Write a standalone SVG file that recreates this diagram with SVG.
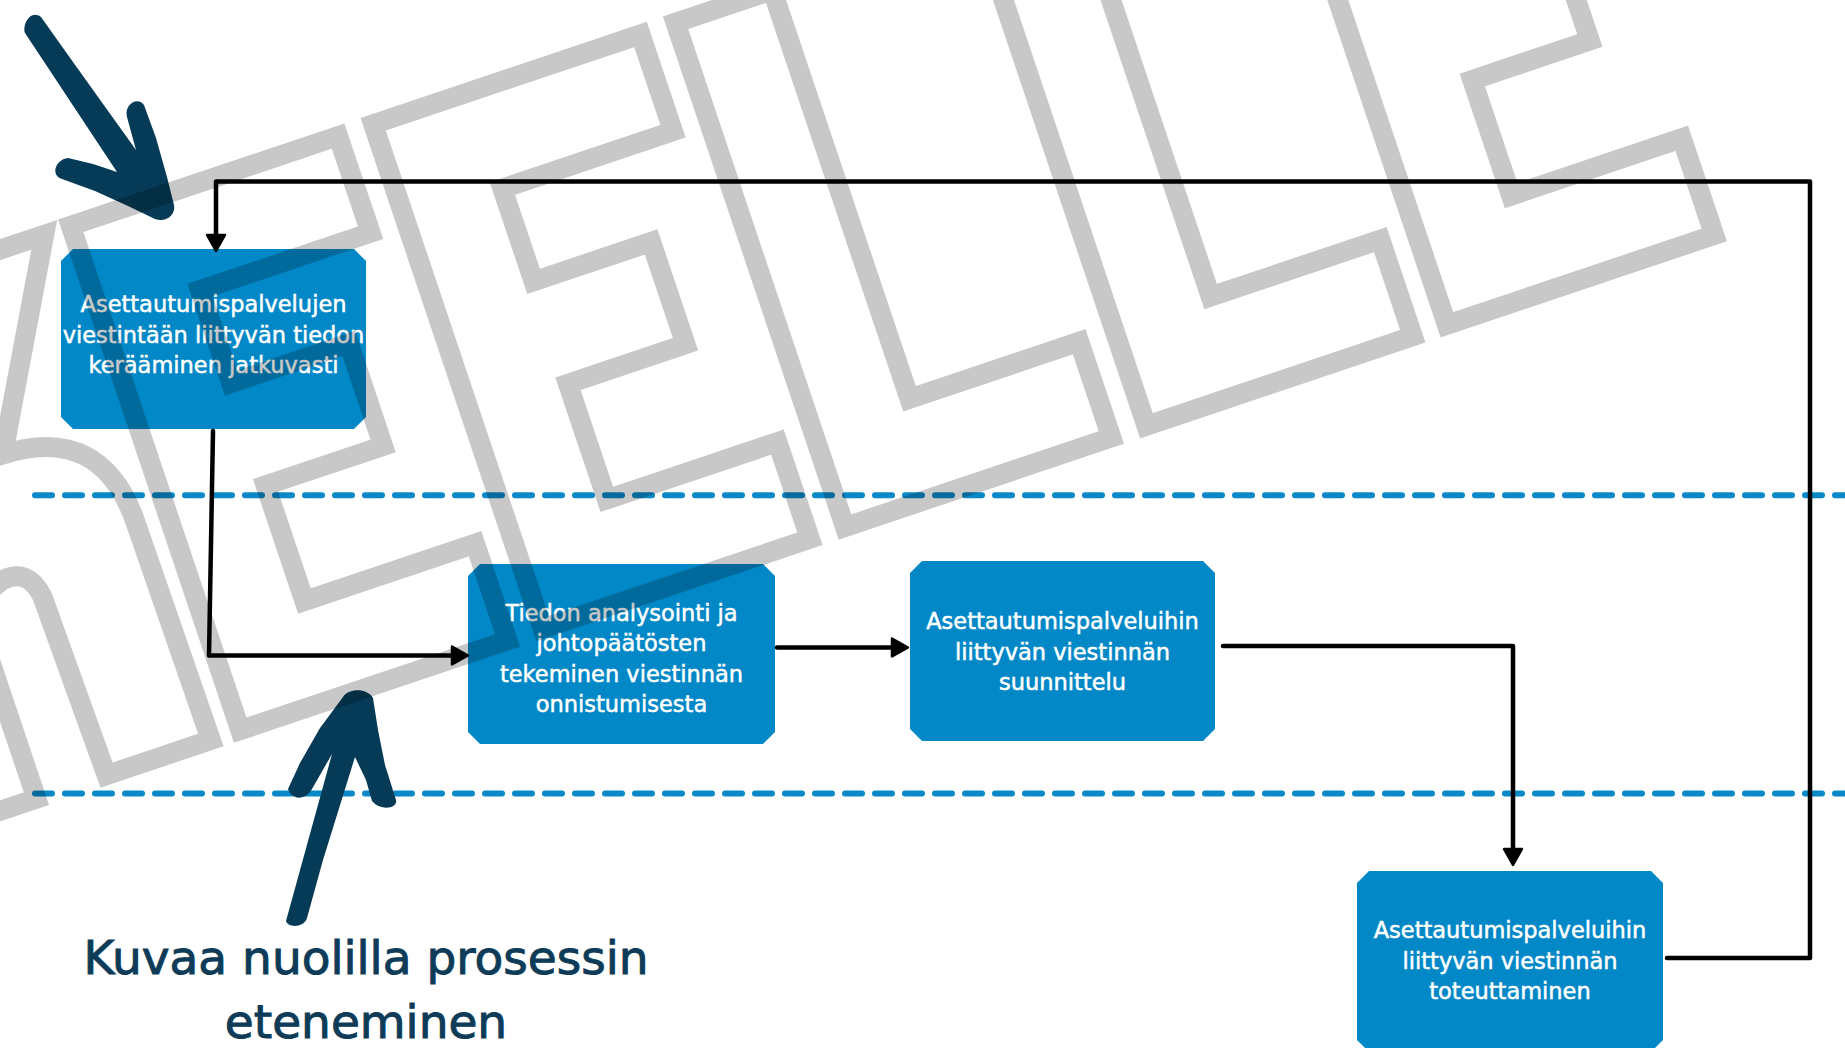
<svg xmlns="http://www.w3.org/2000/svg" width="1845" height="1048" viewBox="0 0 1845 1048">
<defs>
<style>
.node{fill:#0288c7}
.nt{font-family:"DejaVu Sans","Liberation Sans",sans-serif;font-size:22.5px;fill:#ffffff;stroke:#ffffff;stroke-width:0.5;text-anchor:middle}
.conn{fill:none;stroke:#000;stroke-width:4.5;stroke-linecap:round;stroke-linejoin:round}
.lane{fill:none;stroke:#0a89c8;stroke-width:6;stroke-linecap:round;stroke-dasharray:17 13}
.wm{fill:none;stroke:#000;stroke-opacity:0.215;stroke-width:20;stroke-linejoin:miter}
.hand{fill:#063b57}
.label{font-family:"DejaVu Sans","Liberation Sans",sans-serif;font-size:47px;fill:#0d3b58;stroke:#0d3b58;stroke-width:1;text-anchor:middle}
</style>
<marker id="ah" viewBox="0 0 20 22" markerWidth="20" markerHeight="22" refX="14" refY="11" orient="auto" markerUnits="userSpaceOnUse">
<path d="M2,2 L18,11 L2,20 Z" fill="#000" stroke="#000" stroke-width="2.5" stroke-linejoin="round"/>
</marker>
</defs>
<rect x="0" y="0" width="1845" height="1048" fill="#ffffff"/>

<g id="lanes">
<line class="lane" x1="35" y1="495.3" x2="1845" y2="495.3"/>
<line class="lane" x1="35" y1="793.5" x2="1845" y2="793.5"/>
</g>

<g id="node1">
<polygon class="node" points="73,249 354,249 366,261 366,417 354,429 73,429 61,417 61,261"/>
<text class="nt" x="213.5" y="312">Asettautumispalvelujen</text>
<text class="nt" x="213.5" y="342.5">viestintään liittyvän tiedon</text>
<text class="nt" x="213.5" y="373">kerääminen jatkuvasti</text>
</g>

<g id="node2">
<polygon class="node" points="480,564 763,564 775,576 775,732 763,744 480,744 468,732 468,576"/>
<text class="nt" x="621.5" y="621">Tiedon analysointi ja</text>
<text class="nt" x="621.5" y="651">johtopäätösten</text>
<text class="nt" x="621.5" y="682">tekeminen viestinnän</text>
<text class="nt" x="621.5" y="712">onnistumisesta</text>
</g>

<g id="node3">
<polygon class="node" points="922,561 1203,561 1215,573 1215,729 1203,741 922,741 910,729 910,573"/>
<text class="nt" x="1062.5" y="629">Asettautumispalveluihin</text>
<text class="nt" x="1062.5" y="660">liittyvän viestinnän</text>
<text class="nt" x="1062.5" y="690">suunnittelu</text>
</g>

<g id="node4">
<polygon class="node" points="1369,871 1651,871 1663,883 1663,1040 1651,1052 1369,1052 1357,1040 1357,883"/>
<text class="nt" x="1510" y="938">Asettautumispalveluihin</text>
<text class="nt" x="1510" y="969">liittyvän viestinnän</text>
<text class="nt" x="1510" y="999">toteuttaminen</text>
</g>

<g id="connectors">
<path class="conn" d="M1667,958 L1810,958 L1810,181.5 L216,181.5 L216,247" marker-end="url(#ah)"/>
<path class="conn" d="M213,431 L209,655.5 L464,655.5" marker-end="url(#ah)"/>
<path class="conn" d="M777,647.5 L904,647.5" marker-end="url(#ah)"/>
<path class="conn" d="M1223,646 L1513,646 L1513,861" marker-end="url(#ah)"/>
</g>

<g id="hand-arrows">
<path class="hand" d="M25,33 C22,24 31,9 41,17 L73,62 L136,150 L127,117 C124,105 137,96 144,105 L156,138 L167,177 L174,205 C176,215 166,223 155,219 L128,206 L95,191 L62,179 C51,176 54,160 68,158 L93,164 L117,172 Z"/>
<path class="hand" d="M286,921 L332,754 L312,789 C306,800 292,801 288,789 L300,763 L320,728 L343,697 C349,688 367,688 373,698 L378,730 L385,765 L396,800 C398,809 380,811 372,801 L366,780 L355,757 L323,860 L307,918 C304,928 288,928 286,921 Z"/>
</g>

<g id="caption">
<text class="label" x="366" y="974">Kuvaa nuolilla prosessin</text>
<text class="label" x="366" y="1038">eteneminen</text>
</g>

<g id="watermark" class="wm" transform="translate(845 527) rotate(-18.57)">
<path d="M-955,0 V-532 H-666 L-775,-337 Q-672,-335 -671,-230 L-669,0 H-779 L-783,-190 Q-788,-222 -815,-218 L-853,-205 V0 Z"/>
<path d="M-638,0 V-532 H-356 V-430 H-536 V-332 H-412 V-224 H-536 V-102 H-356 V0 Z"/>
<path d="M-319,0 V-532 H-37 V-430 H-217 V-332 H-93 V-224 H-217 V-102 H-37 V0 Z"/>
<path d="M0,0 V-532 H102 V-101 H281 V0 Z"/>
<path d="M318,0 V-532 H420 V-102 H599 V0 Z"/>
<path d="M635,0 V-532 H917 V-430 H737 V-332 H861 V-224 H737 V-102 H917 V0 Z"/>
</g>
</svg>
